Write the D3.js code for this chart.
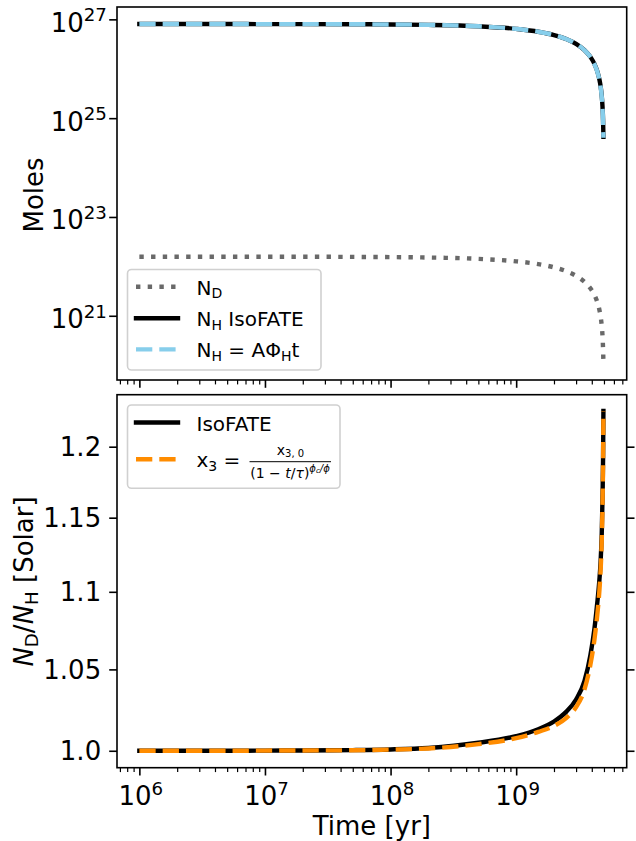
<!DOCTYPE html>
<html><head><meta charset="utf-8">
<script src="https://cdn.jsdelivr.net/npm/d3@7"></script>
<style>
body{margin:0;background:#fff}
svg{display:block;font-family:"DejaVu Sans",sans-serif}
text{white-space:pre}
</style>
</head><body>
<svg id="c" width="636" height="841"></svg>
<script>
// ---- data ----
const timeYr = [1e6, 2e6, 5e6, 1e7, 2e7, 5e7, 1e8, 2e8, 5e8, 1e9, 1.5e9, 2e9, 2.5e9, 3e9, 3.5e9, 3.9e9, 4.2e9, 4.4e9, 4.6e9, 4.7e9, 4.8e9, 4.87e9, 4.92e9, 4.95e9];
const nHIsoFATE = [8.04e26, 8.04e26, 8.03e26, 8.02e26, 8.01e26, 7.96e26, 7.88e26, 7.72e26, 7.23e26, 6.42e26, 5.62e26, 4.81e26, 4.00e26, 3.19e26, 2.38e26, 1.74e26, 1.25e26, 9.29e25, 6.06e25, 4.45e25, 2.83e25, 1.70e25, 8.9e24, 4.2e24];
const nHAnalytic = [8.04e26, 8.04e26, 8.03e26, 8.02e26, 8.01e26, 7.96e26, 7.88e26, 7.72e26, 7.23e26, 6.42e26, 5.62e26, 4.81e26, 4.00e26, 3.19e26, 2.37e26, 1.73e26, 1.23e26, 9.10e25, 5.95e25, 4.33e25, 2.71e25, 1.60e25, 8.0e24, 4.0e24];
const nD = [1.570e22, 1.570e22, 1.568e22, 1.566e22, 1.565e22, 1.555e22, 1.540e22, 1.510e22, 1.419e22, 1.265e22, 1.112e22, 9.56e21, 8.00e21, 6.42e21, 4.85e21, 3.60e21, 2.63e21, 1.98e21, 1.311e21, 9.73e20, 6.30e20, 3.86e20, 2.07e20, 1.15e20];
const ratioIsoFATE = [1.0000, 1.0000, 1.0000, 1.0001, 1.0002, 1.0004, 1.0008, 1.0017, 1.0048, 1.0088, 1.0130, 1.0177, 1.0236, 1.0312, 1.0428, 1.0590, 1.0760, 1.0910, 1.1080, 1.1200, 1.1390, 1.1640, 1.1920, 1.2260];
const ratioX3 = [1.0000, 1.0000, 1.0000, 1.0001, 1.0002, 1.0003, 1.0007, 1.0014, 1.0040, 1.0076, 1.0114, 1.0150, 1.0198, 1.0265, 1.0375, 1.0530, 1.0690, 1.0830, 1.1010, 1.1140, 1.1340, 1.1600, 1.1900, 1.2260];

const xTickValues = [1e6, 1e7, 1e8, 1e9];
const topYTickValues = [1e21, 1e23, 1e25, 1e27];
const bottomYTickValues = [1.0, 1.05, 1.1, 1.15, 1.2];
const bottomYTickLabels = ["1.0", "1.05", "1.1", "1.15", "1.2"];

// ---- layout ----
const L = 117, R = 626.7;
const topT = 7, topB = 380, botT = 394.7, botB = 767.7;
const TICK = 7.8, MINOR = 4.4, SPINE = 1.6, LW = 4.4;
const FS = 26, SUP = 18.2, LFS = 20;

const svg = d3.select("#c");
const x = d3.scaleLog().domain([Math.pow(10, 5.822), Math.pow(10, 9.88)]).range([L, R]);
const yTop = d3.scaleLog().domain([Math.pow(10, 19.70), Math.pow(10, 27.25)]).range([topB, topT]);
const yBot = d3.scaleLog().domain([0.9899, 1.238]).range([botB, botT]);

const minorX = [];
for (let e = 5; e <= 9; e++) for (let k = 2; k <= 9; k++) {
  const v = k * Math.pow(10, e);
  if (v >= x.domain()[0] && v <= x.domain()[1]) minorX.push(v);
}

function rich(parent, px, py, parts, base, anchor) {
  const t = parent.append("text").attr("x", px).attr("y", py)
    .attr("font-size", base).attr("text-anchor", anchor || "start").attr("fill", "#000");
  let cur = 0;
  parts.forEach(p => {
    const s = p[0], o = p[1] || {};
    const off = o.off || 0;
    const ts = t.append("tspan").text(s).attr("dy", off - cur);
    cur = off;
    if (o.size) ts.attr("font-size", o.size);
    if (o.italic) ts.attr("font-style", "italic");
  });
  return t;
}

function styleAxis(g, w) {
  g.select(".domain").remove();
  g.selectAll("line").attr("stroke", "#000").attr("stroke-width", w);
}

function xTicks(y0) {
  svg.append("g").attr("transform", `translate(0,${y0})`)
    .call(d3.axisBottom(x).tickValues(minorX).tickSize(MINOR).tickSizeOuter(0).tickFormat(""))
    .call(g => styleAxis(g, 1.2));
  svg.append("g").attr("transform", `translate(0,${y0})`)
    .call(d3.axisBottom(x).tickValues(xTickValues).tickSize(TICK).tickSizeOuter(0).tickFormat(""))
    .call(g => styleAxis(g, SPINE));
}

// ---- top panel ----
xTicks(topB);
svg.append("g").attr("transform", `translate(${L},0)`)
  .call(d3.axisLeft(yTop).tickValues(topYTickValues).tickSize(TICK).tickSizeOuter(0).tickFormat(""))
  .call(g => styleAxis(g, SPINE));
topYTickValues.forEach(v => {
  rich(svg, L - TICK - 2.3, yTop(v) + 12.4,
    [["10"], [String(Math.round(Math.log10(v))), {size: SUP, off: -10.5}]], FS, "end");
});

const lineTop = arr => d3.line().x((d, i) => x(timeYr[i])).y(d => yTop(d)).curve(d3.curveMonotoneX)(arr);
svg.append("path").attr("d", lineTop(nD)).attr("fill", "none").attr("stroke", "#696969")
  .attr("stroke-width", LW).attr("stroke-dasharray", "4.4,7.3").attr("stroke-linecap", "butt");
svg.append("path").attr("d", lineTop(nHIsoFATE)).attr("fill", "none").attr("stroke", "#000")
  .attr("stroke-width", LW).attr("stroke-linecap", "square");
svg.append("path").attr("d", lineTop(nHAnalytic)).attr("fill", "none").attr("stroke", "#87CEEB")
  .attr("stroke-width", LW).attr("stroke-dasharray", "16.3,7").attr("stroke-linecap", "butt");

svg.append("rect").attr("x", L).attr("y", topT).attr("width", R - L).attr("height", topB - topT)
  .attr("fill", "none").attr("stroke", "#000").attr("stroke-width", SPINE);

rich(svg, 0, 0, [["Moles"]], FS, "middle").attr("transform", `translate(42.5,195) rotate(-90)`);

// top legend
const lg1 = svg.append("g");
lg1.append("rect").attr("x", 127.5).attr("y", 269.5).attr("width", 193.5).attr("height", 100.5)
  .attr("rx", 4).attr("fill", "#fff").attr("fill-opacity", 0.8).attr("stroke", "#d0d0d0").attr("stroke-width", 1.6);
const rows1 = [286.7, 318.3, 349.4];
lg1.append("line").attr("x1", 136).attr("x2", 178).attr("y1", rows1[0]).attr("y2", rows1[0])
  .attr("stroke", "#696969").attr("stroke-width", LW).attr("stroke-dasharray", "4.4,7.3");
lg1.append("line").attr("x1", 136).attr("x2", 178).attr("y1", rows1[1]).attr("y2", rows1[1])
  .attr("stroke", "#000").attr("stroke-width", LW).attr("stroke-linecap", "square");
lg1.append("line").attr("x1", 136).attr("x2", 178).attr("y1", rows1[2]).attr("y2", rows1[2])
  .attr("stroke", "#87CEEB").attr("stroke-width", LW).attr("stroke-dasharray", "16.3,7");
rich(lg1, 196.5, rows1[0] + 8, [["N"], ["D", {size: 14, off: 3.5}]], LFS);
rich(lg1, 196.5, rows1[1] + 8, [["N"], ["H", {size: 14, off: 3.5}], [" IsoFATE"]], LFS);
rich(lg1, 196.5, rows1[2] + 8, [["N"], ["H", {size: 14, off: 3.5}], [" = AΦ"], ["H", {size: 14, off: 3.5}], ["t"]], LFS);

// ---- bottom panel ----
xTicks(botB);
svg.append("g").attr("transform", `translate(${L},0)`)
  .call(d3.axisLeft(yBot).tickValues(bottomYTickValues).tickSize(TICK).tickSizeOuter(0).tickFormat(""))
  .call(g => styleAxis(g, SPINE));
svg.append("g").attr("transform", `translate(${R},0)`)
  .call(d3.axisRight(yBot).tickValues(bottomYTickValues).tickSize(TICK).tickSizeOuter(0).tickFormat(""))
  .call(g => styleAxis(g, SPINE));
bottomYTickValues.forEach((v, i) => {
  rich(svg, L - TICK - 8, yBot(v) + 9.5, [[bottomYTickLabels[i]]], FS, "end");
});
xTickValues.forEach(v => {
  rich(svg, x(v) + 1.5, botB + 36.8,
    [["10"], [String(Math.round(Math.log10(v))), {size: SUP, off: -10}]], FS, "middle");
});

const lineBot = arr => d3.line().x((d, i) => x(timeYr[i])).y(d => yBot(d)).curve(d3.curveMonotoneX)(arr);
svg.append("path").attr("d", lineBot(ratioIsoFATE)).attr("fill", "none").attr("stroke", "#000")
  .attr("stroke-width", LW).attr("stroke-linecap", "square");
svg.append("path").attr("d", lineBot(ratioX3)).attr("fill", "none").attr("stroke", "#FF8C00")
  .attr("stroke-width", LW).attr("stroke-dasharray", "16.3,7").attr("stroke-linecap", "butt");

svg.append("rect").attr("x", L).attr("y", botT).attr("width", R - L).attr("height", botB - botT)
  .attr("fill", "none").attr("stroke", "#000").attr("stroke-width", SPINE);

rich(svg, 0, 0, [["N", {italic: true}], ["D", {size: SUP, off: 5}], ["/"], ["N", {italic: true}], ["H", {size: SUP, off: 5}], [" [Solar]"]], FS, "middle")
  .attr("transform", `translate(33,581.5) rotate(-90)`);
rich(svg, (L + R) / 2, 834.5, [["Time [yr]"]], FS, "middle");

// bottom legend
const lg2 = svg.append("g");
lg2.append("rect").attr("x", 127.5).attr("y", 405).attr("width", 212.5).attr("height", 83.3)
  .attr("rx", 4).attr("fill", "#fff").attr("fill-opacity", 0.8).attr("stroke", "#d0d0d0").attr("stroke-width", 1.6);
const rows2 = [422.5, 459.3];
lg2.append("line").attr("x1", 136).attr("x2", 178).attr("y1", rows2[0]).attr("y2", rows2[0])
  .attr("stroke", "#000").attr("stroke-width", LW).attr("stroke-linecap", "square");
lg2.append("line").attr("x1", 136).attr("x2", 178).attr("y1", rows2[1]).attr("y2", rows2[1])
  .attr("stroke", "#FF8C00").attr("stroke-width", LW).attr("stroke-dasharray", "16.3,7");
rich(lg2, 196.5, rows2[0] + 8.3, [["IsoFATE"]], LFS);
rich(lg2, 196.5, rows2[1] + 8, [["x"], ["3", {size: 14, off: 3.5}], [" ="]], LFS);
rich(lg2, 290.5, 455, [["x"], ["3, 0", {size: 10, off: 2}]], 14, "middle");
lg2.append("line").attr("x1", 249.5).attr("x2", 331).attr("y1", 461.7).attr("y2", 461.7)
  .attr("stroke", "#000").attr("stroke-width", 1);
rich(lg2, 290, 477.5, [["(1 − "], ["t", {italic: true}], ["/"], ["τ", {italic: true}], [")"],
  ["ϕ", {size: 10, off: -6, italic: true}], ["c", {size: 7, off: -4.5, italic: true}], ["/ϕ", {size: 10, off: -6, italic: true}]], 14, "middle");
</script>
</body></html>
